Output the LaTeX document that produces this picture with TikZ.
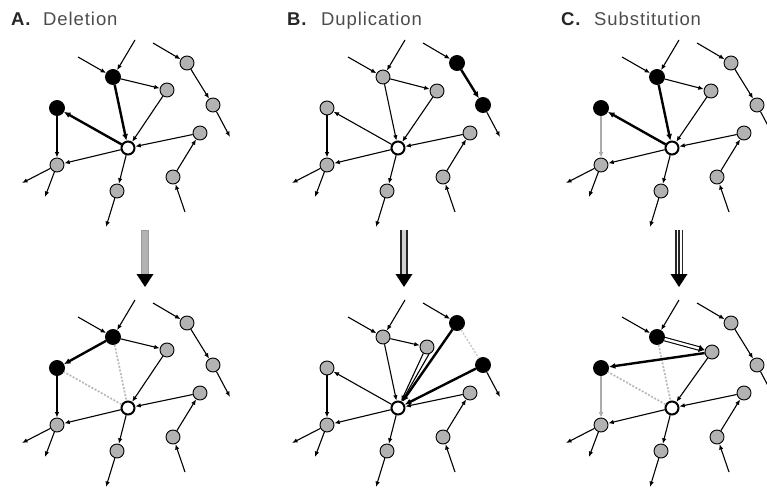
\documentclass[tikz,border=0pt]{standalone}
\usepackage{fontspec}
\setmainfont{Liberation Sans}
\usetikzlibrary{arrows.meta}
\tikzset{
 gnode/.style={circle, draw=black, line width=0.9pt, fill=gray!60, minimum size=14pt, inner sep=0pt},
 bnode/.style={circle, draw=black, line width=0.9pt, fill=black, minimum size=15pt, inner sep=0pt},
 wnode/.style={circle, draw=black, line width=2pt, fill=white, minimum size=13pt, inner sep=0pt},
 edg/.style={line width=1.1pt, -{Latex[length=5.5pt,width=4.5pt]}},
 ethick/.style={line width=2.4pt, -{Latex[length=6.5pt,width=6pt]}},
 egrey/.style={line width=2.2pt, draw=gray!65, -{Latex[length=5.5pt,width=5pt]}},
 edel/.style={line width=1.7pt, draw=gray!55, dash pattern=on 2pt off 1.6pt},
 ehollow/.style={line width=1.1pt, double=white, double distance=2.4pt, -{Latex[length=6pt,width=8pt]}},
 ttl/.style={anchor=base west, inner sep=0pt, font=\fontsize{18.5}{20}\selectfont\addfontfeature{LetterSpace=5}},
}
% #1 style of t, #2 style of l, #3 style of h1, #4 style of h2, #5 position of g
\newcommand\netbase[5]{%
 \coordinate (ti1) at (78,57);
 \coordinate (ti2) at (135,40);
 \coordinate (hi) at (153,43);
 \coordinate (ho) at (230,137);
 \coordinate (lo1) at (22,183);
 \coordinate (lo2) at (45,197);
 \coordinate (bo) at (106,227);
 \coordinate (ri) at (185,212);
 \node[#1] (t) at (113,77) {};
 \node[gnode] (g) at (#5) {};
 \node[#2] (l) at (57,108) {};
 \node[wnode] (c) at (128,148) {};
 \node[gnode] (lb) at (57,165) {};
 \node[gnode] (b) at (117,191) {};
 \node[gnode] (r) at (200,133) {};
 \node[gnode] (rb) at (173,177) {};
 \node[#3] (h1) at (187,63) {};
 \node[#4] (h2) at (213,105) {};
 \draw[edg] (ti1) -- (t);
 \draw[edg] (ti2) -- (t);
 \draw[edg] (c) -- (lb);
 \draw[edg] (c) -- (b);
 \draw[edg] (b) -- (bo);
 \draw[edg] (lb) -- (lo1);
 \draw[edg] (lb) -- (lo2);
 \draw[edg] (ri) -- (rb);
 \draw[edg] (rb) -- (r);
 \draw[edg] (r) -- (c);
 \draw[edg] (hi) -- (h1);
 \draw[edg] (h2) -- (ho);
}
\begin{document}
\begin{tikzpicture}[x=1pt,y=-1pt]
\useasboundingbox (0,0) rectangle (767,489);
\clip (0,0) rectangle (767,489);

% titles
\node[ttl, text=black!85] (tA1) at (11,26) {\bfseries A.};
\node[ttl, text=black!70] (tA2) at (43,26) {Deletion};
\node[ttl, text=black!85] (tB1) at (287,26) {\bfseries B.};
\node[ttl, text=black!70] (tB2) at (321,26) {Duplication};
\node[ttl, text=black!85] (tC1) at (561,26) {\bfseries C.};
\node[ttl, text=black!70] (tC2) at (594,26) {Substitution};

% ---- A top
\begin{scope}[name prefix=At-]
 \netbase{bnode}{bnode}{gnode}{gnode}{167,90}
 \draw[edg] (t) -- (g);
 \draw[edg] (g) -- (c);
 \draw[ethick] (t) -- (c);
 \draw[ethick] (c) -- (l);
 \draw[edg] (h1) -- (h2);
 \draw[edg] (l) -- (lb);
\end{scope}
% ---- A bottom
\begin{scope}[shift={(0,260)}, name prefix=Ab-]
 \netbase{bnode}{bnode}{gnode}{gnode}{167,90}
 \draw[edg] (t) -- (g);
 \draw[edg] (g) -- (c);
 \draw[edel] (t) -- (c);
 \draw[edel] (c) -- (l);
 \draw[ethick] (t) -- (l);
 \draw[edg] (h1) -- (h2);
 \draw[edg] (l) -- (lb);
\end{scope}

% ---- B top
\begin{scope}[shift={(270,0)}, name prefix=Bt-]
 \netbase{gnode}{gnode}{bnode}{bnode}{167,91}
 \draw[edg] (t) -- (g);
 \draw[edg] (g) -- (c);
 \draw[edg] (t) -- (c);
 \draw[edg] (c) -- (l);
 \draw[ethick] (h1) -- (h2);
 \draw[edg] (l) -- (lb);
\end{scope}
% ---- B bottom
\begin{scope}[shift={(270,260)}, name prefix=Bb-]
 \netbase{gnode}{gnode}{bnode}{bnode}{157,87}
 \draw[edg] (t) -- (g);
 \draw[edg] (g.240) -- (c);
 \draw[edg] (g.285) -- (c);
 \draw[edg] (t) -- (c);
 \draw[edg] (c) -- (l);
 \draw[edel, line width=1.3pt, draw=gray!45] (h1) -- (h2);
 \draw[ethick] (h1) -- (c);
 \draw[ethick] (h2) -- (c);
 \draw[edg] (l) -- (lb);
\end{scope}

% ---- C top
\begin{scope}[shift={(544,0)}, name prefix=Ct-]
 \netbase{bnode}{bnode}{gnode}{gnode}{167,91}
 \draw[edg] (t) -- (g);
 \draw[edg] (g) -- (c);
 \draw[ethick] (t) -- (c);
 \draw[ethick] (c) -- (l);
 \draw[edg] (h1) -- (h2);
 \draw[egrey] (l) -- (lb);
\end{scope}
% ---- C bottom
\begin{scope}[shift={(544,260)}, name prefix=Cb-]
 \netbase{bnode}{bnode}{gnode}{gnode}{168,92}
 \draw[ehollow] (t) -- (g);
 \draw[edg] (g) -- (c);
 \draw[edel] (t) -- (c);
 \draw[edel] (c) -- (l);
 \draw[ethick] (g) -- (l);
 \draw[edg] (h1) -- (h2);
 \draw[egrey] (l) -- (lb);
\end{scope}

% ---- transition arrows
\coordinate (aA1) at (145,230); \coordinate (aA2) at (145,274);
\fill[gray!60, draw=gray!80] ([xshift=-3.5pt]aA1) rectangle ([xshift=3.5pt]aA2);
\fill ([xshift=-8.5pt]aA2) -- ([xshift=8.5pt]aA2) -- ([yshift=-13pt]aA2) -- cycle;

\coordinate (aB1) at (404,230); \coordinate (aB2) at (404,274);
\draw[line width=4pt, gray!35] (aB1) -- (aB2);
\draw[line width=1.8pt, black!85] ([xshift=-3.2pt]aB1) -- ([xshift=-3.2pt]aB2);
\draw[line width=1.8pt, black!85] ([xshift=3.2pt]aB1) -- ([xshift=3.2pt]aB2);
\fill ([xshift=-8.5pt]aB2) -- ([xshift=8.5pt]aB2) -- ([yshift=-13pt]aB2) -- cycle;

\coordinate (aC1) at (679,230); \coordinate (aC2) at (679,274);
\draw[line width=1.4pt, black!85] ([xshift=-3.2pt]aC1) -- ([xshift=-3.2pt]aC2);
\draw[line width=1.4pt, black!85] (aC1) -- (aC2);
\draw[line width=1.4pt, black!85] ([xshift=3.2pt]aC1) -- ([xshift=3.2pt]aC2);
\fill ([xshift=-8.5pt]aC2) -- ([xshift=8.5pt]aC2) -- ([yshift=-13pt]aC2) -- cycle;
\end{tikzpicture}
\end{document}
